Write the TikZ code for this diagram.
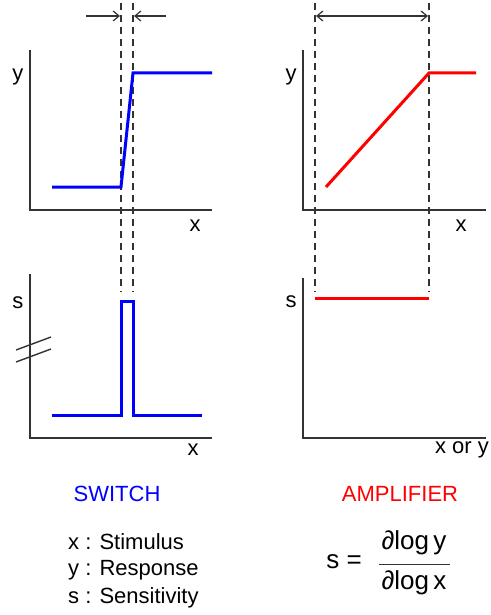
\documentclass[tikz,border=0pt]{standalone}
\usepackage{fontspec}
\setmainfont{Liberation Sans}
\usetikzlibrary{arrows.meta}
\definecolor{dgray}{HTML}{333333}
\definecolor{swblue}{HTML}{0000FF}
\definecolor{ampred}{HTML}{FF0000}
\begin{document}
\begin{tikzpicture}[x=1pt,y=-1pt,
  axis/.style={draw=dgray,line width=1.4pt},
  guide/.style={draw=dgray,line width=1.2pt,dash pattern=on 7pt off 5pt},
  dimarrow/.style={draw=dgray,line width=1.2pt},
  curveblue/.style={draw=swblue,line width=3pt,line join=miter},
  curvered/.style={draw=ampred,line width=3pt,line join=miter},
  lbl/.style={inner sep=0pt,font=\fontsize{22}{26}\selectfont},
  flbl/.style={inner sep=0pt,font=\fontsize{26}{30}\selectfont},
  tip/.style={-{Straight Barb[length=6pt,width=10pt]}}]
\useasboundingbox (0,0) rectangle (490,615);
% ---------- coordinates
\coordinate (ltO) at (30,210); \coordinate (ltY) at (30,50); \coordinate (ltX) at (212,210);
\coordinate (lbO) at (30,438); \coordinate (lbY) at (30,274); \coordinate (lbX) at (212,438);
\coordinate (rtO) at (303,210); \coordinate (rtY) at (303,50); \coordinate (rtX) at (486,210);
\coordinate (rbO) at (303,438); \coordinate (rbY) at (303,278); \coordinate (rbX) at (486,438);
% ---------- axes
\draw[axis] (ltY) -- (ltO) -- (ltX);
\draw[axis] (lbY) -- (lbO) -- (lbX);
\draw[axis] (rtY) -- (rtO) -- (rtX);
\draw[axis] (rbY) -- (rbO) -- (rbX);
% axis break marks
\coordinate (b1a) at (16,350); \coordinate (b1b) at (51,337);
\coordinate (b2a) at (16,362); \coordinate (b2b) at (51,349);
\draw[axis] (b1a) -- (b1b);
\draw[axis] (b2a) -- (b2b);
% ---------- guides
\coordinate (g1t) at (121,3); \coordinate (g1b) at (121,292);
\coordinate (g2t) at (133,3); \coordinate (g2b) at (133,292);
\coordinate (g3t) at (315,3); \coordinate (g3b) at (315,292);
\coordinate (g4t) at (429,3); \coordinate (g4b) at (429,292);
\draw[guide] (g1t) -- (g1b);
\draw[guide] (g2t) -- (g2b);
\draw[guide] (g3t) -- (g3b);
\draw[guide] (g4t) -- (g4b);
% ---------- dimension arrows
\coordinate (a1s) at (86,16); \coordinate (a1e) at (120,16);
\coordinate (a2s) at (166,16); \coordinate (a2e) at (134,16);
\coordinate (a3s) at (316,16); \coordinate (a3e) at (428,16);
\draw[dimarrow,tip] (a1s) -- (a1e);
\draw[dimarrow,tip] (a2s) -- (a2e);
\draw[dimarrow,{Straight Barb[length=6pt,width=10pt]}-{Straight Barb[length=6pt,width=10pt]}] (a3s) -- (a3e);
% ---------- curves
\draw[curveblue] (52,187) -- (121,187) -- (133,73) -- (212,73);
\draw[curveblue] (52,415) -- (121,415) -- (121,301) -- (133,301) -- (133,415) -- (202,415);
\draw[curvered] (326,187) -- (429,73) -- (476,73);
\draw[curvered] (315,298) -- (429,298);
% ---------- axis labels
\node[lbl] (ly1) at (18,77) {y};
\node[lbl] (lx1) at (195,226) {x};
\node[lbl] (ls1) at (18,303) {s};
\node[lbl] (lx2) at (193,450) {x};
\node[lbl] (ly2) at (291,77) {y};
\node[lbl] (lx3) at (461,226) {x};
\node[lbl] (ls2) at (291,302) {s};
\node[lbl] (lx4) at (462,450) {x or y};
% ---------- titles
\node[lbl,text=swblue] (sw) at (117,494) {SWITCH};
\node[lbl,text=ampred] (amp) at (400,494) {AMPLIFIER};
% ---------- legend
\node[lbl,anchor=west] (leg1) at (68,542) {x : Stimulus};
\node[lbl,anchor=west] (leg2) at (68,570) {y : Response};
\node[lbl,anchor=west] (leg3) at (68,598) {s : Sensitivity};
% ---------- formula
\node[flbl] (seq) at (344,562) {s =};
\node[flbl] (num) at (414,543) {∂log\,y};
\node[flbl] (den) at (414,583) {∂log\,x};
\coordinate (fb1) at (379,564); \coordinate (fb2) at (450,564);
\draw[draw=dgray,line width=1pt] (fb1) -- (fb2);
\end{tikzpicture}
\end{document}
